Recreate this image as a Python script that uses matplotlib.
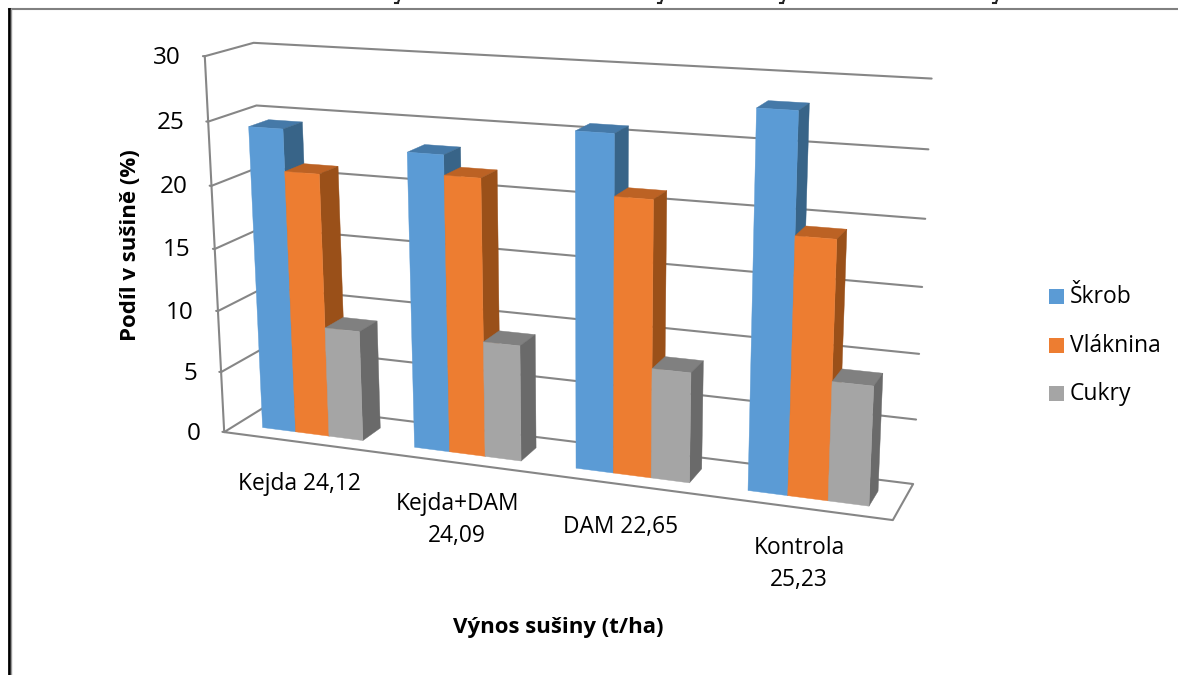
import numpy as np
import matplotlib
matplotlib.use("Agg")
import matplotlib.pyplot as plt
from matplotlib.patches import Polygon, Rectangle

# Data
categories = ["Kejda 24,12", "Kejda+DAM\n24,09", "DAM 22,65", "Kontrola\n25,23"]
series_names = ["Škrob", "Vláknina", "Cukry"]
skrob = [24.4, 23.3, 25.75, 28.2]
vlaknina = [21.1, 21.75, 21.15, 19.35]
cukry = [8.9, 9.15, 8.5, 9.0]
y_ticks = [0, 5, 10, 15, 20, 25, 30]

front_colors = ["#5B9BD5", "#ED7D31", "#A5A5A5"]
side_colors = ["#386488", "#9A5019", "#6A6A6A"]
top_colors = ["#4579A8", "#BC6224", "#808080"]
grid_color = "#868686"

plt.rcParams["font.family"] = ["Open Sans", "DejaVu Sans"]

# Camera: fitted from box corners seen on the page (category, value, depth -> pixel)
box_3d = np.array([[0, 0, 0], [4, 0, 0], [0, 30, 0], [0, 25, 0],
                   [0, 30, 1], [4, 30, 1], [4, 0, 1], [0, 0, 1], [4, 25, 1], [0, 25, 1]], float)
box_px = np.array([[224, 432], [893, 520], [205, 57], [208, 121],
                   [253, 43], [932, 78], [913, 484], [270, 404], [928, 150], [257, 105]], float)
scale_3d = np.array([4.0, 30.0, 1.0])
rows = []
for p, q in zip(box_3d / scale_3d, box_px / 1000):
    h = np.append(p, 1)
    rows.append(np.r_[h, np.zeros(4), -q[0] * h])
    rows.append(np.r_[np.zeros(4), h, -q[1] * h])
cam = np.linalg.svd(np.array(rows))[2][-1].reshape(3, 4)


def proj(x, v, d):
    h = cam @ np.array([x / 4.0, v / 30.0, d, 1.0])
    return h[0] / h[2] * 1000, h[1] / h[2] * 1000


def line3d(ax, pts, lw=1.5):
    xy = np.array([proj(*p) for p in pts])
    ax.plot(xy[:, 0], xy[:, 1], color=grid_color, lw=lw, solid_capstyle="round", zorder=1)


fig = plt.figure(figsize=(11.78, 6.75), dpi=100)
ax = fig.add_axes([0, 0, 1, 1])
ax.set_xlim(0, 1178)
ax.set_ylim(675, 0)
ax.axis("off")

# outer chart frame
ax.plot([9, 1178], [9, 9], color="#808080", lw=1.5)
ax.plot([9, 9], [9, 675], color="#000000", lw=2)
ax.plot([10.5, 10.5], [9, 675], color="#999999", lw=1)

# leftovers of a text line cropped away above the page, only stubs remain
for tx in [397, 660, 782, 995]:
    ax.plot([tx - 2, tx + 1], [2.5, 2.5], color="#222222", lw=1.5)
    ax.plot([tx + 1, tx + 2], [2.5, 0], color="#222222", lw=1.5)

# grid on side wall and back wall
for v in y_ticks:
    if v > 0:
        line3d(ax, [(0, v, 0), (0, v, 1), (4, v, 1)])
    line3d(ax, [(-0.012, v, 0), (0, v, 0)])
    x0, y0 = proj(0, v, 0)
    ax.text(x0 - 24, y0 + 1.5, str(v), ha="right", va="center", fontsize=17.5, color="#000000")
line3d(ax, [(0, 0, 0), (0, 30, 0)])
line3d(ax, [(0, 0, 1), (0, 0, 0), (4, 0, 0), (4, 0, 1), (0, 0, 1)])

# bars
margin = 0.175
bar_w = 2 / 9
d0, d1 = 0.27, 0.69
for i in range(len(categories)):
    for j, vals in enumerate([skrob, vlaknina, cukry]):
        x0 = i + margin + j * bar_w
        x1 = x0 + bar_w
        v = vals[i]
        top = [proj(x0, v, d0), proj(x1, v, d0), proj(x1, v, d1), proj(x0, v, d1)]
        side = [proj(x1, 0, d0), proj(x1, v, d0), proj(x1, v, d1), proj(x1, 0, d1)]
        front = [proj(x0, 0, d0), proj(x1, 0, d0), proj(x1, v, d0), proj(x0, v, d0)]
        for pts, col in [(top, top_colors[j]), (side, side_colors[j]), (front, front_colors[j])]:
            ax.add_patch(Polygon(pts, closed=True, facecolor=col, edgecolor=col, lw=0.3, zorder=2))

# category labels
label_x = [299, 457, 621, 799]
label_y = [484, 520, 527, 564]
for cat, lx, ly in zip(categories, label_x, label_y):
    ax.text(lx, ly, cat, ha="center", va="center", fontsize=16.4, linespacing=1.42, color="#000000")

ax.text(558, 627, "Výnos sušiny (t/ha)", ha="center", va="center", fontsize=16, fontweight="bold")
ax.text(131, 245, "Podíl v sušině (%)", ha="center", va="center", rotation=90, fontsize=16, fontweight="bold")

# legend
legend_y = [297, 346, 394]
for name, col, ly in zip(series_names, front_colors, legend_y):
    ax.add_patch(Rectangle((1049, ly - 8), 15, 15, facecolor=col, edgecolor="none"))
    ax.text(1070, ly, name, ha="left", va="center", fontsize=16.5)

fig.savefig("out.png", dpi=100)
